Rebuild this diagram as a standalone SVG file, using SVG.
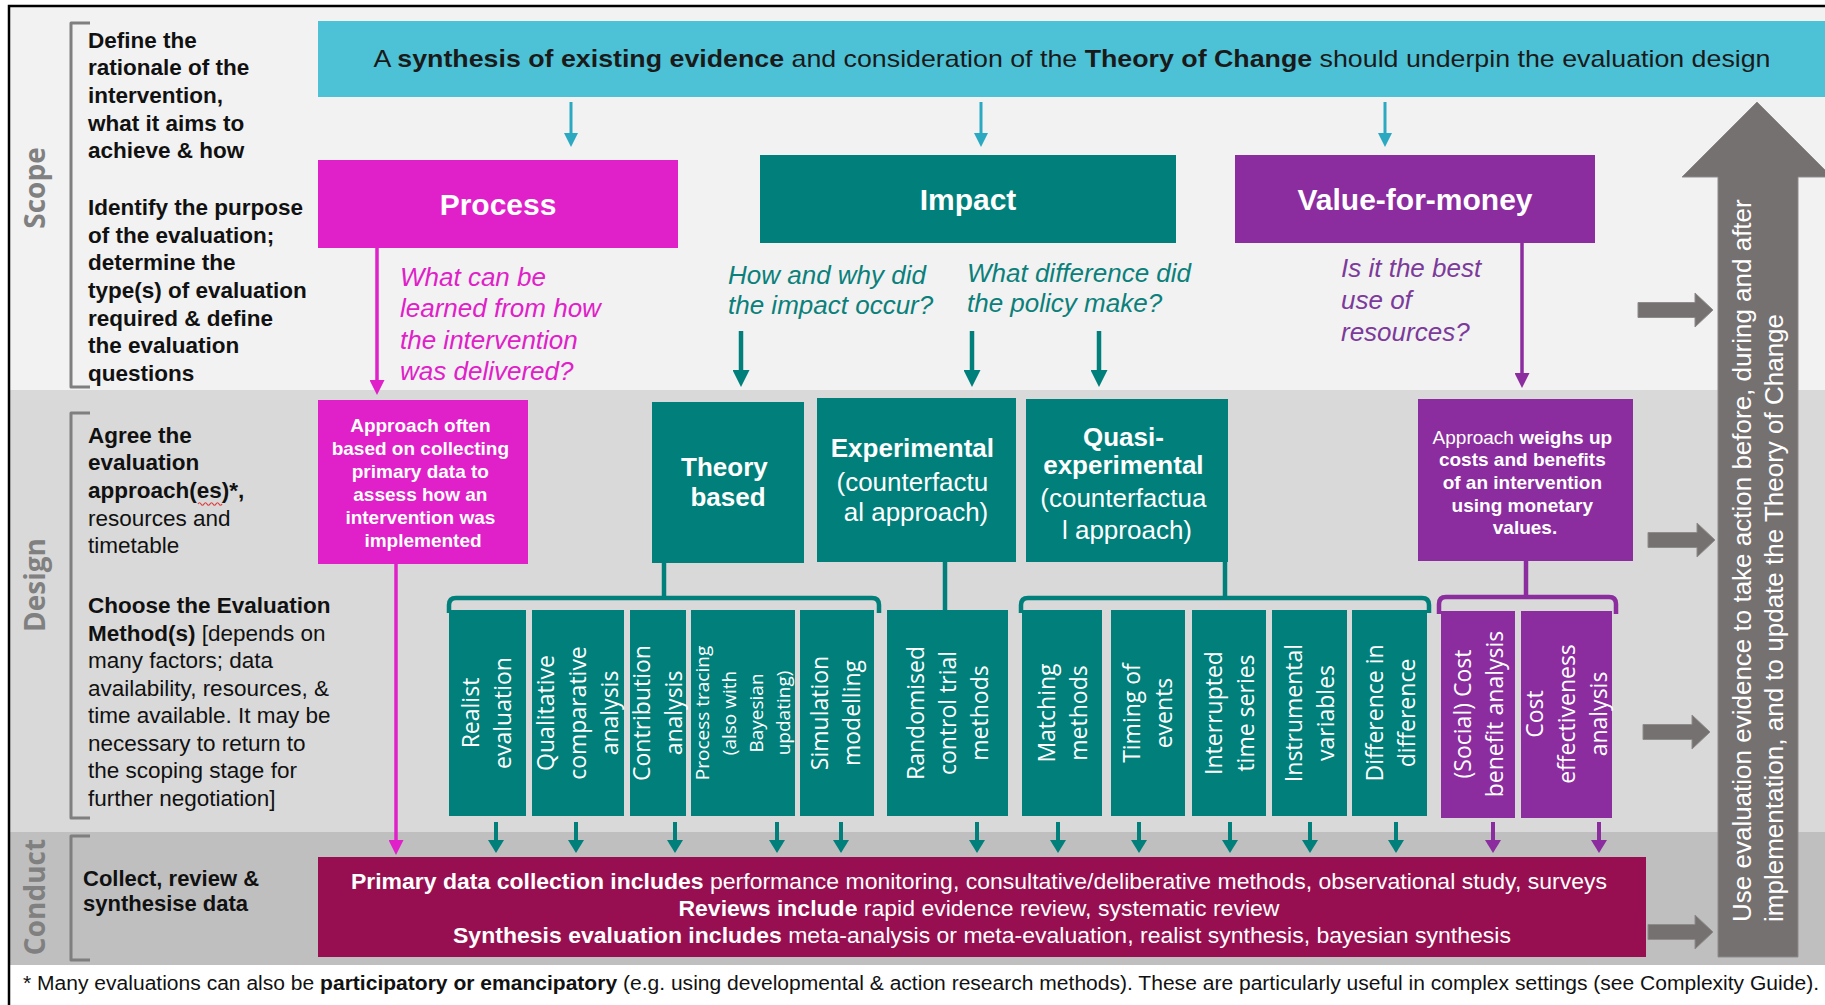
<svg xmlns="http://www.w3.org/2000/svg" width="1825" height="1005" viewBox="0 0 1825 1005">
<defs>
<style>
text{font-family:"Liberation Sans",Arial,sans-serif;}
.os{font-family:"Open Sans","DejaVu Sans",sans-serif;}
.b{font-weight:bold;}
.w{fill:#ffffff;}
.k{fill:#111111;}
.band{font-family:"Open Sans","DejaVu Sans",sans-serif;font-weight:bold;font-size:28px;fill:#808080;}
.brk{fill:none;stroke:#7f7f7f;stroke-width:3;stroke-linejoin:round;}
.teal{fill:#007f7b;}
.purp{fill:#8b2c9f;}
.mag{fill:#e020c8;}
.gray{fill:#767171;stroke:#8f8b8b;stroke-width:1;}
.mt{font-family:"Open Sans","DejaVu Sans",sans-serif;font-size:23px;fill:#ffffff;}
.q{font-style:italic;font-size:26px;}
</style>
<marker id="mCyan" markerUnits="userSpaceOnUse" viewBox="0 0 14 14" markerWidth="14" markerHeight="14" refX="0" refY="7" orient="auto"><path d="M0,0 L14,7 L0,14 Z" fill="#2ba9c1"/></marker>
<marker id="mTealL" markerUnits="userSpaceOnUse" viewBox="0 0 17 17" markerWidth="17" markerHeight="17" refX="0" refY="8.5" orient="auto"><path d="M0,0 L17,8.5 L0,17 Z" fill="#007f7b"/></marker>
<marker id="mTealS" markerUnits="userSpaceOnUse" viewBox="0 0 13 16" markerWidth="13" markerHeight="16" refX="0" refY="8" orient="auto"><path d="M0,0 L13,8 L0,16 Z" fill="#007f7b"/></marker>
<marker id="mPurpS" markerUnits="userSpaceOnUse" viewBox="0 0 13 16" markerWidth="13" markerHeight="16" refX="0" refY="8" orient="auto"><path d="M0,0 L13,8 L0,16 Z" fill="#8b2c9f"/></marker>
<marker id="mPurpL" markerUnits="userSpaceOnUse" viewBox="0 0 15 15" markerWidth="15" markerHeight="15" refX="0" refY="7.5" orient="auto"><path d="M0,0 L15,7.5 L0,15 Z" fill="#8b2c9f"/></marker>
<marker id="mMag" markerUnits="userSpaceOnUse" viewBox="0 0 15 15" markerWidth="15" markerHeight="15" refX="0" refY="7.5" orient="auto"><path d="M0,0 L15,7.5 L0,15 Z" fill="#e020c8"/></marker>
</defs>

<!-- background bands -->
<g id="bands">
<rect x="0" y="0" width="1825" height="1005" fill="#ffffff"/>
<rect x="10" y="7" width="1815" height="383" fill="#f2f2f2"/>
<rect x="10" y="390" width="1815" height="442" fill="#d9d9d9"/>
<rect x="10" y="832" width="1815" height="133" fill="#bfbfbf"/>
<path d="M9,1005 V6 H1825" fill="none" stroke="#000" stroke-width="2.5"/>
</g>

<!-- stage labels -->
<g id="stage-scope">
<text class="band" text-anchor="middle" transform="translate(45,188) rotate(-90)">Scope</text>
<path class="brk" d="M90,23 H71 V387 H90"/>
<text class="k" font-size="22.5" font-weight="bold">
<tspan x="88" y="48">Define the</tspan>
<tspan x="88" y="75">rationale of the</tspan>
<tspan x="88" y="103">intervention,</tspan>
<tspan x="88" y="131">what it aims to</tspan>
<tspan x="88" y="158">achieve &amp; how</tspan>
<tspan x="88" y="215">Identify the purpose</tspan>
<tspan x="88" y="243">of the evaluation;</tspan>
<tspan x="88" y="270">determine the</tspan>
<tspan x="88" y="298">type(s) of evaluation</tspan>
<tspan x="88" y="326">required &amp; define</tspan>
<tspan x="88" y="353">the evaluation</tspan>
<tspan x="88" y="381">questions</tspan>
</text>
</g>

<g id="stage-design">
<text class="band" text-anchor="middle" transform="translate(45,585) rotate(-90)">Design</text>
<path class="brk" d="M90,413 H71 V818 H90"/>
<text class="k" font-size="22.5">
<tspan x="88" y="443" font-weight="bold">Agree the</tspan>
<tspan x="88" y="470" font-weight="bold">evaluation</tspan>
<tspan x="88" y="498" font-weight="bold">approach(es)*,</tspan>
<tspan x="88" y="526">resources and</tspan>
<tspan x="88" y="553">timetable</tspan>
<tspan x="88" y="613" font-weight="bold">Choose the Evaluation</tspan>
<tspan x="88" y="641"><tspan font-weight="bold">Method(s)</tspan> [depends on</tspan>
<tspan x="88" y="668">many factors; data</tspan>
<tspan x="88" y="696">availability, resources, &amp;</tspan>
<tspan x="88" y="723">time available. It may be</tspan>
<tspan x="88" y="751">necessary to return to</tspan>
<tspan x="88" y="778">the scoping stage for</tspan>
<tspan x="88" y="806">further negotiation]</tspan>
</text>
<path d="M198,504 q1.5,-2.5 3,0 t3,0 t3,0 t3,0 t3,0 t3,0 t3,0 t3,0" fill="none" stroke="#e03a3a" stroke-width="1.2"/>
</g>

<g id="stage-conduct">
<text class="band" text-anchor="middle" transform="translate(45,897) rotate(-90)">Conduct</text>
<path class="brk" d="M90,836 H71 V960 H90"/>
<text class="k" font-size="22" font-weight="bold">
<tspan x="83" y="886">Collect, review &amp;</tspan>
<tspan x="83" y="911">synthesise data</tspan>
</text>
</g>

<!-- top banner -->
<g id="banner">
<rect x="318" y="21" width="1507" height="76" fill="#4dc2d6"/>
<text x="1072" y="67" text-anchor="middle" font-size="24" fill="#1a1a1a" textLength="1397" lengthAdjust="spacingAndGlyphs">A <tspan font-weight="bold">synthesis of existing evidence</tspan> and consideration of the <tspan font-weight="bold">Theory of Change</tspan> should underpin the evaluation design</text>
</g>

<!-- evaluation types -->
<g id="process">
<rect class="mag" x="318" y="160" width="360" height="88"/>
<text class="w b" x="498" y="215" text-anchor="middle" font-size="30">Process</text>
<text class="q" fill="#e020c8">
<tspan x="400" y="286">What can be</tspan>
<tspan x="400" y="317">learned from how</tspan>
<tspan x="400" y="349">the intervention</tspan>
<tspan x="400" y="380">was delivered?</tspan>
</text>
</g>

<g id="impact">
<rect class="teal" x="760" y="155" width="416" height="88"/>
<text class="w b" x="968" y="210" text-anchor="middle" font-size="30">Impact</text>
<text class="q" fill="#0b807a">
<tspan x="728" y="284">How and why did</tspan>
<tspan x="728" y="314">the impact occur?</tspan>
<tspan x="967" y="282">What difference did</tspan>
<tspan x="967" y="312">the policy make?</tspan>
</text>
</g>

<g id="value-for-money">
<rect class="purp" x="1235" y="155" width="360" height="88"/>
<text class="w b" x="1415" y="210" text-anchor="middle" font-size="30">Value-for-money</text>
<text class="q" fill="#7c3a9b">
<tspan x="1341" y="277">Is it the best</tspan>
<tspan x="1341" y="309">use of</tspan>
<tspan x="1341" y="341">resources?</tspan>
</text>
</g>

<!-- approaches -->
<g id="approach-process">
<rect class="mag" x="318" y="400" width="210" height="164"/>
<text class="w b" font-size="19" text-anchor="middle">
<tspan x="423" y="432">Approach often</tspan>
<tspan x="423" y="455">based on collecting</tspan>
<tspan x="423" y="478">primary data to</tspan>
<tspan x="423" y="501">assess how an</tspan>
<tspan x="423" y="524">intervention was</tspan>
<tspan x="423" y="547">implemented</tspan>
</text>
</g>

<g id="theory-based">
<rect class="teal" x="652" y="402" width="152" height="161"/>
<text class="w b" font-size="26" text-anchor="middle">
<tspan x="728" y="476">Theory</tspan>
<tspan x="728" y="506">based</tspan>
</text>
</g>

<g id="experimental">
<rect class="teal" x="817" y="398" width="199" height="164"/>
<text class="w" font-size="26" text-anchor="middle">
<tspan x="916" y="457" font-weight="bold">Experimental</tspan>
<tspan x="916" y="491">(counterfactu</tspan>
<tspan x="916" y="521">al approach)</tspan>
</text>
</g>

<g id="quasi-experimental">
<rect class="teal" x="1026" y="399" width="202" height="163"/>
<text class="w" font-size="26" text-anchor="middle">
<tspan x="1127" y="446" font-weight="bold">Quasi-</tspan>
<tspan x="1127" y="474" font-weight="bold">experimental</tspan>
<tspan x="1127" y="507">(counterfactua</tspan>
<tspan x="1127" y="539">l approach)</tspan>
</text>
</g>

<g id="approach-vfm">
<rect class="purp" x="1418" y="399" width="215" height="162"/>
<text class="w" font-size="19" text-anchor="middle">
<tspan x="1525" y="444">Approach <tspan font-weight="bold">weighs up</tspan></tspan>
<tspan x="1525" y="466" font-weight="bold">costs and benefits</tspan>
<tspan x="1525" y="489" font-weight="bold">of an intervention</tspan>
<tspan x="1525" y="512" font-weight="bold">using monetary</tspan>
<tspan x="1525" y="534" font-weight="bold">values.</tspan>
</text>
</g>

<!-- methods -->
<g id="m-realist">
<rect class="teal" x="449" y="610" width="77" height="206"/>
<text class="mt" text-anchor="middle" transform="translate(487,713) rotate(-90)"><tspan x="0" y="-7.7">Realist</tspan><tspan x="0" y="24.3">evaluation</tspan></text>
</g>
<g id="m-qca">
<rect class="teal" x="532" y="610" width="92" height="206"/>
<text class="mt" text-anchor="middle" transform="translate(578,713) rotate(-90)"><tspan x="0" y="-23.7">Qualitative</tspan><tspan x="0" y="8.3">comparative</tspan><tspan x="0" y="40.3">analysis</tspan></text>
</g>
<g id="m-contribution">
<rect class="teal" x="630" y="610" width="56" height="206"/>
<text class="mt" text-anchor="middle" transform="translate(658,713) rotate(-90)"><tspan x="0" y="-7.7">Contribution</tspan><tspan x="0" y="24.3">analysis</tspan></text>
</g>
<g id="m-process-tracing">
<rect class="teal" x="691" y="610" width="104" height="206"/>
<text class="mt" font-size="19" text-anchor="middle" transform="translate(743,713) rotate(-90)" style="font-size:19px"><tspan x="0" y="-33.7">Process tracing</tspan><tspan x="0" y="-6.7">(also with</tspan><tspan x="0" y="20.3">Bayesian</tspan><tspan x="0" y="47.3">updating)</tspan></text>
</g>
<g id="m-simulation">
<rect class="teal" x="800" y="610" width="74" height="206"/>
<text class="mt" text-anchor="middle" transform="translate(836,713) rotate(-90)"><tspan x="0" y="-7.7">Simulation</tspan><tspan x="0" y="24.3">modelling</tspan></text>
</g>
<g id="m-rct">
<rect class="teal" x="887" y="610" width="121" height="206"/>
<text class="mt" text-anchor="middle" transform="translate(948,713) rotate(-90)"><tspan x="0" y="-23.7">Randomised</tspan><tspan x="0" y="8.3">control trial</tspan><tspan x="0" y="40.3">methods</tspan></text>
</g>
<g id="m-matching">
<rect class="teal" x="1022" y="610" width="80" height="206"/>
<text class="mt" text-anchor="middle" transform="translate(1063,713) rotate(-90)"><tspan x="0" y="-7.7">Matching</tspan><tspan x="0" y="24.3">methods</tspan></text>
</g>
<g id="m-timing">
<rect class="teal" x="1111" y="610" width="74" height="206"/>
<text class="mt" text-anchor="middle" transform="translate(1148,713) rotate(-90)"><tspan x="0" y="-7.7">Timing of</tspan><tspan x="0" y="24.3">events</tspan></text>
</g>
<g id="m-interrupted">
<rect class="teal" x="1192" y="610" width="74" height="206"/>
<text class="mt" text-anchor="middle" transform="translate(1230,713) rotate(-90)"><tspan x="0" y="-7.7">Interrupted</tspan><tspan x="0" y="24.3">time series</tspan></text>
</g>
<g id="m-instrumental">
<rect class="teal" x="1272" y="610" width="75" height="206"/>
<text class="mt" text-anchor="middle" transform="translate(1310,713) rotate(-90)"><tspan x="0" y="-7.7">Instrumental</tspan><tspan x="0" y="24.3">variables</tspan></text>
</g>
<g id="m-difference">
<rect class="teal" x="1352" y="610" width="75" height="206"/>
<text class="mt" text-anchor="middle" transform="translate(1391,713) rotate(-90)"><tspan x="0" y="-7.7">Difference in</tspan><tspan x="0" y="24.3">difference</tspan></text>
</g>
<g id="m-cba">
<rect class="purp" x="1441" y="611" width="74" height="207"/>
<text class="mt" text-anchor="middle" transform="translate(1479,714) rotate(-90)"><tspan x="0" y="-7.7">(Social) Cost</tspan><tspan x="0" y="24.3">benefit analysis</tspan></text>
</g>
<g id="m-cea">
<rect class="purp" x="1521" y="611" width="91" height="207"/>
<text class="mt" text-anchor="middle" transform="translate(1567,714) rotate(-90)"><tspan x="0" y="-23.7">Cost</tspan><tspan x="0" y="8.3">effectiveness</tspan><tspan x="0" y="40.3">analysis</tspan></text>
</g>

<!-- conduct box -->
<g id="conduct-box">
<rect x="318" y="857" width="1328" height="100" fill="#970f50"/>
<text class="w" font-size="22" text-anchor="middle">
<tspan x="982" y="889" textLength="1256" lengthAdjust="spacingAndGlyphs"><tspan font-weight="bold">Primary data collection includes</tspan> performance monitoring, consultative/deliberative methods, observational study, surveys</tspan>
<tspan x="982" y="916" textLength="601" lengthAdjust="spacingAndGlyphs"><tspan font-weight="bold">Reviews include</tspan> rapid evidence review, systematic review</tspan>
<tspan x="982" y="943" textLength="1058" lengthAdjust="spacingAndGlyphs"><tspan font-weight="bold">Synthesis evaluation includes</tspan> meta-analysis or meta-evaluation, realist synthesis, bayesian synthesis</tspan>
</text>
</g>

<!-- feedback arrow -->
<g id="feedback-arrow">
<path class="gray" d="M1718,957 V177 H1682 L1757,102 L1832,177 H1798 V957 Z"/>
<text class="w" font-size="26" transform="translate(1751,922) rotate(-90)"><tspan x="0" y="0">Use evaluation evidence to take action before, during and after</tspan><tspan x="0" y="32">implementation, and to update the Theory of Change</tspan></text>
</g>

<!-- connectors -->
<g id="connectors">
<g stroke="#2ba9c1" stroke-width="3" fill="none">
<line x1="571" y1="102" x2="571" y2="133" marker-end="url(#mCyan)"/>
<line x1="981" y1="102" x2="981" y2="133" marker-end="url(#mCyan)"/>
<line x1="1385" y1="102" x2="1385" y2="133" marker-end="url(#mCyan)"/>
</g>
<g stroke="#e020c8" stroke-width="3.5" fill="none">
<line x1="377" y1="248" x2="377" y2="380" marker-end="url(#mMag)"/>
<line x1="396" y1="564" x2="396" y2="840" marker-end="url(#mMag)"/>
</g>
<g stroke="#007f7b" stroke-width="4.5" fill="none">
<line x1="741" y1="331" x2="741" y2="370" marker-end="url(#mTealL)"/>
<line x1="972" y1="331" x2="972" y2="370" marker-end="url(#mTealL)"/>
<line x1="1099" y1="331" x2="1099" y2="370" marker-end="url(#mTealL)"/>
</g>
<line x1="1522" y1="243" x2="1522" y2="373" stroke="#8b2c9f" stroke-width="3.5" marker-end="url(#mPurpL)"/>
<g stroke="#007f7b" stroke-width="4.5" fill="none" stroke-linejoin="round">
<path d="M664,563 V598"/>
<path d="M449,613 V605 Q449,598 456,598 H872 Q879,598 879,605 V613"/>
<path d="M945,562 V611"/>
<path d="M1225,562 V598"/>
<path d="M1021,613 V605 Q1021,598 1028,598 H1422 Q1429,598 1429,605 V613"/>
</g>
<g stroke="#8b2c9f" stroke-width="4.5" fill="none" stroke-linejoin="round">
<path d="M1526,561 V597"/>
<path d="M1439,614 V604 Q1439,597 1446,597 H1609 Q1616,597 1616,604 V614"/>
</g>
<g stroke="#007f7b" stroke-width="4" fill="none">
<line x1="496" y1="822" x2="496" y2="840" marker-end="url(#mTealS)"/>
<line x1="576" y1="822" x2="576" y2="840" marker-end="url(#mTealS)"/>
<line x1="675" y1="822" x2="675" y2="840" marker-end="url(#mTealS)"/>
<line x1="777" y1="822" x2="777" y2="840" marker-end="url(#mTealS)"/>
<line x1="841" y1="822" x2="841" y2="840" marker-end="url(#mTealS)"/>
<line x1="977" y1="822" x2="977" y2="840" marker-end="url(#mTealS)"/>
<line x1="1058" y1="822" x2="1058" y2="840" marker-end="url(#mTealS)"/>
<line x1="1139" y1="822" x2="1139" y2="840" marker-end="url(#mTealS)"/>
<line x1="1230" y1="822" x2="1230" y2="840" marker-end="url(#mTealS)"/>
<line x1="1310" y1="822" x2="1310" y2="840" marker-end="url(#mTealS)"/>
<line x1="1396" y1="822" x2="1396" y2="840" marker-end="url(#mTealS)"/>
</g>
<g stroke="#8b2c9f" stroke-width="4" fill="none">
<line x1="1493" y1="822" x2="1493" y2="840" marker-end="url(#mPurpS)"/>
<line x1="1599" y1="822" x2="1599" y2="840" marker-end="url(#mPurpS)"/>
</g>
<g>
<path class="gray" d="M1638,302.5 H1695 V293 L1713,310 L1695,327 V317.5 H1638 Z"/>
<path class="gray" d="M1648,532.5 H1697 V523 L1715,540 L1697,557 V547.5 H1648 Z"/>
<path class="gray" d="M1643,724.5 H1692 V715 L1710,732 L1692,749 V739.5 H1643 Z"/>
<path class="gray" d="M1648,924.5 H1695 V915 L1713,932 L1695,949 V939.5 H1648 Z"/>
</g>
</g>

<!-- footnote -->
<g id="footnote">
<text x="23" y="990" font-size="20" fill="#111" textLength="1796" lengthAdjust="spacingAndGlyphs">* Many evaluations can also be <tspan font-weight="bold">participatory or emancipatory</tspan> (e.g. using developmental &amp; action research methods). These are particularly useful in complex settings (see Complexity Guide).</text>
</g>
</svg>
